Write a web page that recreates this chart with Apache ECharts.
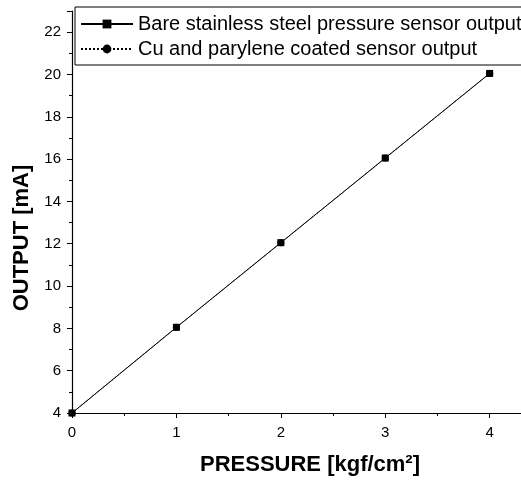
<!DOCTYPE html>
<html><head><meta charset="utf-8">
<script src="https://cdn.jsdelivr.net/npm/echarts@6/dist/echarts.min.js"></script>
<style>html,body{margin:0;padding:0;background:#fff}#c{width:521px;height:480px}</style>
</head><body><div id="c"></div>
<script>
var pressure = [0, 1, 2, 3, 4];
var bareOutput = [4.0, 8.05, 12.05, 16.05, 20.05];
var coatedOutput = [4.0, 8.05, 12.05, 16.05, 20.05];
var seriesNames = ['Bare stainless steel pressure sensor output', 'Cu and parylene coated sensor output'];
var xName = 'PRESSURE [kgf/cm²]';
var yName = 'OUTPUT [mA]';

function pairs(xs, ys){ return xs.map(function(x,i){ return [x, ys[i]]; }); }

var chart = echarts.init(document.getElementById('c'), null, {renderer:'canvas'});
var font = 'Liberation Sans, Arial, sans-serif';
chart.setOption({
  animation: false,
  backgroundColor: '#fff',
  grid: {left: 72, right: 0, top: 11, bottom: 67, containLabel: false, outerBoundsMode: 'none'},
  legend: {
    orient: 'vertical', left: 75, top: 7,
    padding: [7, 4, 6, 5],
    itemGap: 5, itemWidth: 52, itemHeight: 11,
    backgroundColor: '#fff', borderColor: '#000', borderWidth: 1,
    textStyle: {color: '#000', fontSize: 20, fontFamily: font, lineHeight: 20},
    data: seriesNames
  },
  xAxis: {
    type: 'value', min: 0, max: 4.3, interval: 1,
    name: xName, nameLocation: 'middle', nameGap: 41,
    nameTextStyle: {color: '#000', fontSize: 22, fontWeight: 'bold', fontFamily: font, padding: [0,0,0,27]},
    axisLine: {lineStyle: {color: '#000', width: 1.2}},
    axisTick: {inside: false, length: 5, lineStyle: {color: '#000'}},
    minorTick: {show: true, splitNumber: 2, length: 3, lineStyle: {color: '#000'}},
    splitLine: {show: false},
    axisLabel: {color: '#000', fontSize: 15, fontFamily: font, margin: 12, showMaxLabel: false}
  },
  yAxis: {
    type: 'value', min: 4, max: 23, interval: 2,
    name: yName, nameLocation: 'middle', nameGap: 38, nameRotate: 90,
    nameTextStyle: {color: '#000', fontSize: 22, fontWeight: 'bold', fontFamily: font, padding: [0,52,0,0]},
    axisLine: {show: true, lineStyle: {color: '#000', width: 1.2}},
    axisTick: {inside: false, length: 5, lineStyle: {color: '#000'}},
    minorTick: {show: true, splitNumber: 2, length: 3, lineStyle: {color: '#000'}},
    splitLine: {show: false},
    axisLabel: {color: '#000', fontSize: 15, fontFamily: font, margin: 11, showMaxLabel: false}
  },
  series: [
    {
      name: seriesNames[0], type: 'line', data: pairs(pressure, bareOutput),
      symbol: 'rect', symbolSize: 7, color: '#000',
      lineStyle: {color: '#000', width: 1, type: 'solid'},
      itemStyle: {color: '#000'}
    },
    {
      name: seriesNames[1], type: 'line', data: pairs(pressure, coatedOutput),
      symbol: 'circle', symbolSize: 7, color: '#000',
      lineStyle: {color: '#000', width: 1, type: 'dotted'},
      itemStyle: {color: '#000'}
    }
  ]
});
</script></body></html>
